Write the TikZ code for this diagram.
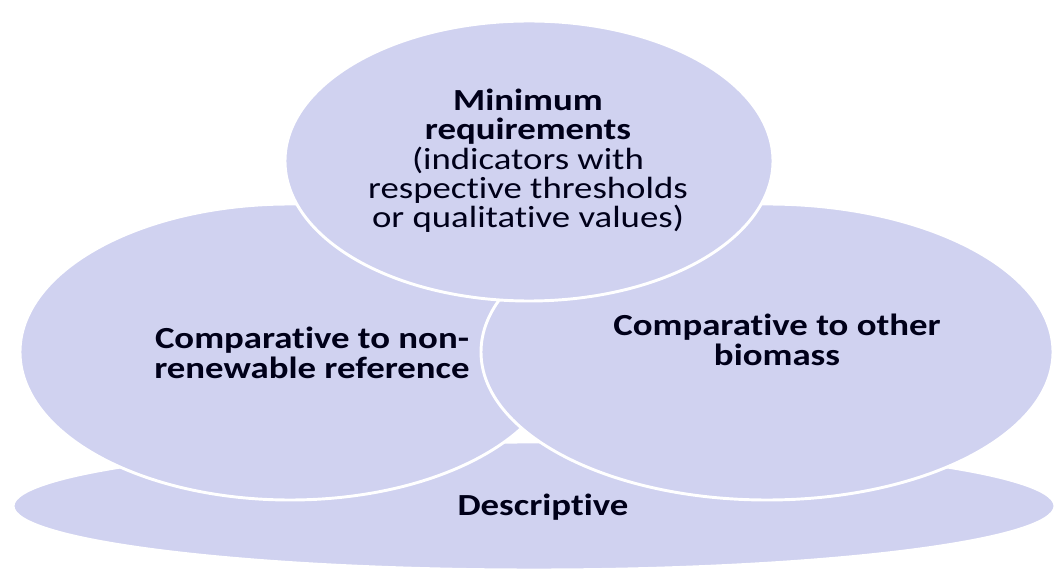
\documentclass[tikz,border=0pt]{standalone}
\usepackage{fontspec}
\setmainfont{Carlito}[FakeStretch=1.2,Ligatures=NoCommon]
\usepackage{tikz}
\usetikzlibrary{shapes.geometric}
\definecolor{lavender}{RGB}{208,210,240}
\tikzset{%
    blob/.style={%
        ellipse, fill=lavender, draw=white, line width=2.2pt, inner sep=0pt
    },
    words/.style={%
        align=center, inner sep=0pt, text=black!90!blue,
        font=\fontsize{23}{22}\selectfont
    },
    boldwords/.style={%
        words, font=\fontsize{23}{22}\selectfont\bfseries
    }
}

\begin{document}
\begin{tikzpicture}[x=0.75pt,y=-0.75pt]
	\useasboundingbox (0,0) rectangle (1057,570);
	\node[blob, minimum width=781.5pt, minimum height=96pt] (desc) at (534,506) {};
	\node[blob, minimum width=405pt, minimum height=222pt] (nonren) at (290,352) {};
	\node[blob, minimum width=429pt, minimum height=222pt] (other) at (767,352) {};
	\node[blob, minimum width=366pt, minimum height=210pt] (minreq) at (529,161) {};
	\node[words] (minreqtext) at (528,161) {\textbf{Minimum}\\ \textbf{requirements}\\ (indicators with\\ respective thresholds\\ or qualitative values)};
	\node[boldwords] (nonrentext) at (312,353) {Comparative to non-\\ renewable reference};
	\node[boldwords] (othertext) at (777,340) {Comparative to other\\ biomass};
	\node[boldwords] (desctext) at (543,507) {Descriptive};
\end{tikzpicture}
\end{document}
